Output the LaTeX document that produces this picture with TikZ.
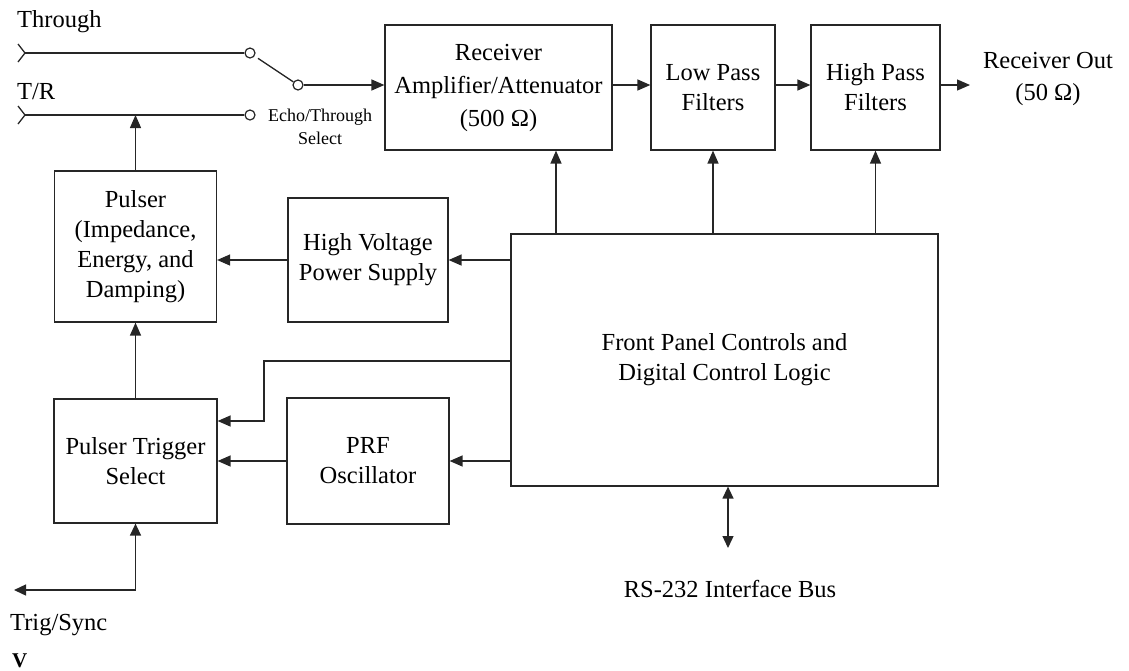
\documentclass[tikz,border=0pt]{standalone}
\usepackage{fontspec}
\setmainfont{Liberation Serif}
\usetikzlibrary{arrows.meta,positioning,calc}

\begin{document}
\begin{tikzpicture}[x=1pt,y=-1pt,
    blk/.style={draw=black!85, line width=1.2pt, align=center, inner sep=0pt, font=\fontsize{24.5}{30}\selectfont},
    lbl/.style={inner sep=0pt, font=\fontsize{24.5}{30}\selectfont},
    wire/.style={draw=black!85, line width=1.3pt},
    arrow/.style={wire, -{Triangle[length=13pt,width=11pt]}},
    dblarrow/.style={wire, {Triangle[length=12pt,width=11pt]}-{Triangle[length=12pt,width=11pt]}},
    term/.style={circle, draw=black!85, fill=white, line width=1.2pt, inner sep=0pt, minimum size=10pt}
]
\useasboundingbox (0,0) rectangle (1129,670);

% blocks
\node[blk, minimum width=227pt, minimum height=125pt, font=\fontsize{24.5}{33}\selectfont] (recv) at (498.5,87.5) {Receiver\\Amplifier/Attenuator\\(500 Ω)};
\node[blk, minimum width=124pt, minimum height=125pt] (lpf) at (713,87.5) {Low Pass\\Filters};
\node[blk, minimum width=129pt, minimum height=125pt] (hpf) at (875.5,87.5) {High Pass\\Filters};
\node[blk, minimum width=162pt, minimum height=151pt] (pulser) at (135.5,246.5) {Pulser\\(Impedance,\\Energy, and\\Damping)};
\node[blk, minimum width=160pt, minimum height=124pt] (hvps) at (368,260) {High Voltage\\Power Supply};
\node[blk, minimum width=427pt, minimum height=252pt] (fpc) at (724.5,360) {Front Panel Controls and\\Digital Control Logic};
\node[blk, minimum width=163pt, minimum height=124pt] (pts) at (135.5,461) {Pulser Trigger\\Select};
\node[blk, minimum width=162pt, minimum height=126pt] (prf) at (368,461) {PRF\\Oscillator};

% inputs and switch
\coordinate (thrin) at (25,53);
\coordinate (trin) at (25,115);
\node[term] (thrc) at (250,53) {};
\node[term] (trc) at (250,115) {};
\node[term] (swc) at (298,85) {};
\draw[wire] ([shift={(-7,-9)}]thrin) -- (thrin) -- ([shift={(-7,9)}]thrin);
\draw[wire] ([shift={(-7,-9)}]trin) -- (trin) -- ([shift={(-7,9)}]trin);
\draw[wire] (thrin) -- (thrc);
\draw[wire] (trin) -- (trc);
\draw[wire, shorten <=4pt] (thrc) -- (swc);

% labels
\node[lbl, anchor=base west] (thrlbl) at (17,27) {Through};
\node[lbl, anchor=base west] (trlbl) at (17,99) {T/R};
\node[lbl, align=center, font=\fontsize{18}{23}\selectfont] (swlbl) at (320,127) {Echo/Through\\Select};
\node[lbl, align=center, font=\fontsize{24.5}{32}\selectfont] (outlbl) at (1048,79) {Receiver Out\\(50 Ω)};
\node[lbl, anchor=base west] (synclbl) at (10,630) {Trig/Sync};
\node[lbl, anchor=base west, font=\bfseries\fontsize{21}{24}\selectfont] (vlbl) at (12,667) {V};
\node[lbl, anchor=base] (buslbl) at (730,597) {RS-232 Interface Bus};

% receiver chain
\coordinate (outend) at (970,85);
\draw[arrow] (swc) -- (swc -| recv.west);
\draw[arrow] (recv.east |- swc) -- (lpf.west |- swc);
\draw[arrow] (lpf.east |- swc) -- (hpf.west |- swc);
\draw[arrow] (hpf.east |- swc) -- (outend);

% control lines
\coordinate (rxa) at ([xshift=57.5pt]recv.south);
\draw[arrow] (rxa |- fpc.north) -- (rxa);
\draw[arrow] (lpf.south |- fpc.north) -- (lpf.south);
\draw[arrow] (hpf.south |- fpc.north) -- (hpf.south);
\draw[arrow] (fpc.west |- hvps) -- (hvps.east);
\draw[arrow] (hvps.west) -- (hvps.west -| pulser.east);
\coordinate (elb) at (264,361);
\draw[arrow] (fpc.west |- elb) -- (elb) |- ([yshift=40pt]pts.east);
\draw[arrow] (fpc.west |- prf) -- (prf.east);
\draw[arrow] (prf.west) -- (pts.east);
\draw[arrow] (pts.north) -- (pts.north |- pulser.south);
\draw[arrow] (pulser.north) -- (pulser.north |- trc);

% trigger and bus
\coordinate (trigend) at (14,590);
\draw[dblarrow] (trigend) -| (pts.south);
\coordinate (busend) at (728,548);
\draw[dblarrow] (fpc.south -| busend) -- (busend);
\end{tikzpicture}
\end{document}
